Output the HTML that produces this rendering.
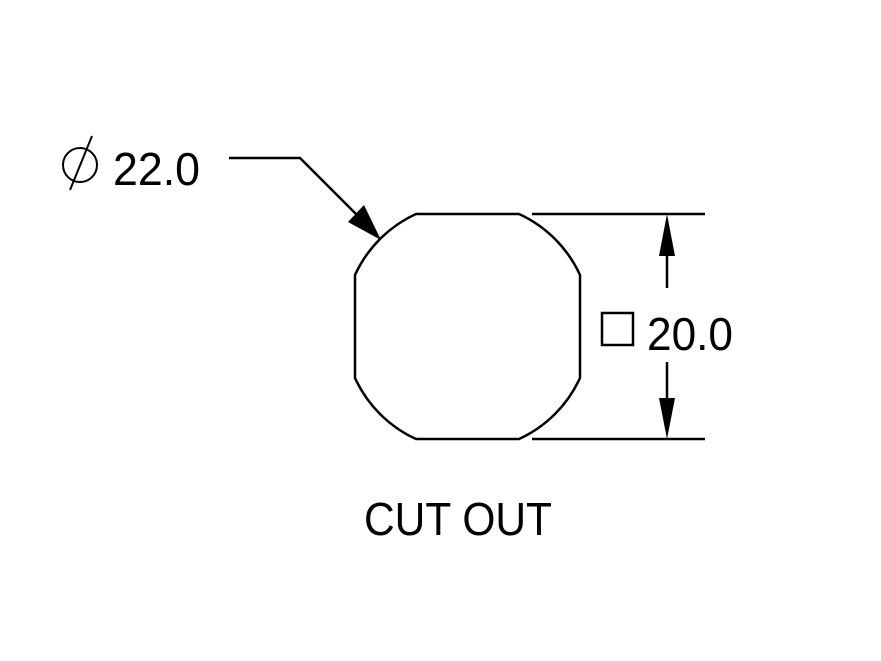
<!DOCTYPE html>
<html><head><style>html,body{margin:0;padding:0;background:#fff;}svg{display:block}</style></head>
<body>
<svg width="881" height="661" viewBox="0 0 881 661" xmlns="http://www.w3.org/2000/svg">
<g fill="none" stroke="#000" stroke-width="2.5">
<path d="M416,214 L519,214 A123.75,123.75 0 0 1 580,275 L580,378 A123.75,123.75 0 0 1 519,439 L416,439 A123.75,123.75 0 0 1 355,378 L355,275 A123.75,123.75 0 0 1 416,214 Z"/>
<polyline points="229,158 300,158 372,230"/>
<line x1="532" y1="214" x2="705" y2="214"/>
<line x1="532" y1="439" x2="705" y2="439"/>
<line x1="667" y1="240" x2="667" y2="288"/>
<line x1="667" y1="362" x2="667" y2="412"/>
<rect x="602" y="313" width="31" height="32" stroke-width="2.5"/>
<circle cx="80" cy="165" r="17" stroke-width="2"/>
<line x1="92" y1="136" x2="70" y2="190" stroke-width="2"/>
</g>
<g fill="#000">
<polygon points="381,240 348,222 364,205"/>
<polygon points="667,214 659,256 675,256"/>
<polygon points="667,439 659,398 675,398"/>
</g>
<g font-family="Liberation Sans, sans-serif" font-size="46" fill="#000">
<text x="113" y="185" textLength="87" lengthAdjust="spacingAndGlyphs">22.0</text>
<text x="647" y="350" textLength="86" lengthAdjust="spacingAndGlyphs">20.0</text>
<text x="364" y="535" textLength="188" lengthAdjust="spacingAndGlyphs">CUT OUT</text>
</g>
</svg>
</body></html>
